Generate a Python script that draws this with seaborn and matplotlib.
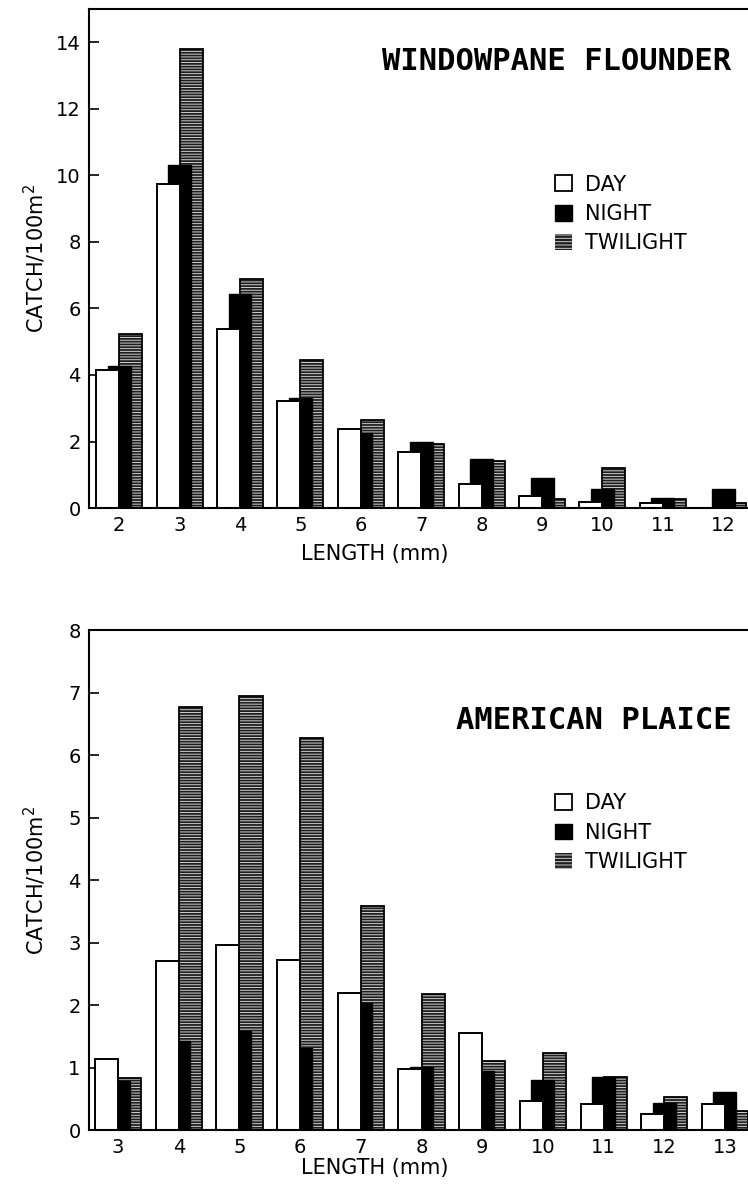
import matplotlib
matplotlib.use("Agg")
import matplotlib.pyplot as plt
import seaborn as sns
import pandas as pd
from matplotlib.patches import Patch

# ---------------- data ----------------
lengths_top = [2, 3, 4, 5, 6, 7, 8, 9, 10, 11, 12]
day_top = [4.14, 9.73, 5.37, 3.21, 2.39, 1.67, 0.71, 0.36, 0.17, 0.16, 0.0]
night_top = [4.26, 10.31, 6.44, 3.32, 2.25, 2.00, 1.47, 0.91, 0.56, 0.29, 0.56]
twilight_top = [5.22, 13.79, 6.87, 4.44, 2.64, 1.94, 1.42, 0.27, 1.21, 0.26, 0.14]

lengths_bot = [3, 4, 5, 6, 7, 8, 9, 10, 11, 12, 13]
day_bot = [1.13, 2.70, 2.96, 2.72, 2.20, 0.97, 1.56, 0.47, 0.41, 0.26, 0.41]
night_bot = [0.78, 1.42, 1.59, 1.31, 2.03, 1.01, 0.95, 0.80, 0.85, 0.44, 0.61]
twilight_bot = [0.83, 6.77, 6.95, 6.28, 3.59, 2.17, 1.11, 1.24, 0.85, 0.53, 0.31]

series_names = ["DAY", "NIGHT", "TWILIGHT"]
titles = ["WINDOWPANE FLOUNDER", "AMERICAN PLAICE"]
yticks_top = [0, 2, 4, 6, 8, 10, 12, 14]
yticks_bot = [0, 1, 2, 3, 4, 5, 6, 7, 8]

# ---------------- style ----------------
sns.set_theme(style="white")
plt.rcParams["font.family"] = ["DejaVu Sans"]
plt.rcParams["hatch.linewidth"] = 0.7

W = 0.38
OFF = 0.19
TWI_FACE = "#1e1e1e"
TWI_HATCH = "#cfcfcf"

fig = plt.figure(figsize=(7.48, 11.84), dpi=100)
ax_top = fig.add_axes([0.119, 0.5709, 0.881, 0.4215])
ax_bot = fig.add_axes([0.119, 0.0456, 0.881, 0.4223])


def draw_panel(ax, lengths, day, night, twi, yticks, ylim, xlim, title, title_y,
               legend_y, xlabel_y):
    df = pd.DataFrame({"length": lengths, "day": day, "night": night, "twi": twi})
    df["x_day"] = df["length"] - OFF
    df["x_night"] = df["length"].astype(float)
    df["x_twi"] = df["length"] + OFF
    # twilight (back): dark fill with light horizontal hatch
    sns.barplot(data=df, x="x_twi", y="twi", native_scale=True, width=W,
                color=TWI_FACE, saturation=1, errorbar=None, ax=ax,
                edgecolor=TWI_HATCH, linewidth=0, hatch="------")
    sns.barplot(data=df, x="x_twi", y="twi", native_scale=True, width=W,
                color="black", fill=False, saturation=1, errorbar=None, ax=ax,
                linewidth=1.3)
    # night (middle)
    sns.barplot(data=df, x="x_night", y="night", native_scale=True, width=W,
                color="black", saturation=1, errorbar=None, ax=ax,
                edgecolor="black", linewidth=1.0)
    # day (front)
    sns.barplot(data=df, x="x_day", y="day", native_scale=True, width=W,
                color="white", saturation=1, errorbar=None, ax=ax,
                edgecolor="black", linewidth=1.4)

    ax.set_xlim(*xlim)
    ax.set_ylim(*ylim)
    ax.set_xticks(lengths)
    ax.set_xticklabels([str(v) for v in lengths], fontsize=14)
    ax.set_yticks(yticks)
    ax.set_yticklabels([str(v) for v in yticks], fontsize=14)
    ax.tick_params(axis="y", direction="in", length=7, width=1.2, left=True,
                   pad=6, colors="black")
    ax.tick_params(axis="x", length=0, pad=6, colors="black")
    for side in ["left", "bottom", "top"]:
        ax.spines[side].set_visible(True)
        ax.spines[side].set_color("black")
        ax.spines[side].set_linewidth(1.5)
    ax.spines["right"].set_visible(False)

    ax.set_xlabel("LENGTH (mm)", fontsize=15, color="black")
    ax.xaxis.set_label_coords(0.434, xlabel_y)
    ax.set_ylabel("CATCH/100m$^{2}$", fontsize=15, color="black")
    ax.yaxis.set_label_coords(-0.062, 0.5)

    ax.text(0.975, title_y, title, transform=ax.transAxes, ha="right", va="center",
            fontsize=22, fontweight="bold", family="DejaVu Sans Mono", color="black")

    handles = [
        Patch(facecolor="white", edgecolor="black", linewidth=1.3),
        Patch(facecolor="black", edgecolor="black"),
        Patch(facecolor=TWI_FACE, edgecolor=TWI_HATCH, hatch="-----", linewidth=0),
    ]
    leg = ax.legend(handles, series_names, loc="upper left",
                    bbox_to_anchor=(0.695, legend_y), frameon=False, fontsize=15,
                    handlelength=0.8, handleheight=0.8, handletextpad=0.6,
                    labelspacing=0.45, borderaxespad=0)
    for t in leg.get_texts():
        t.set_color("black")


draw_panel(ax_top, lengths_top, day_top, night_top, twilight_top,
           yticks_top, (0, 15), (1.5, 12.41), titles[0], 0.894, 0.685, -0.072)
draw_panel(ax_bot, lengths_bot, day_bot, night_bot, twilight_bot,
           yticks_bot, (0, 8), (2.52, 13.38), titles[1], 0.82, 0.69, -0.056)

fig.savefig("out.png", dpi=100)
